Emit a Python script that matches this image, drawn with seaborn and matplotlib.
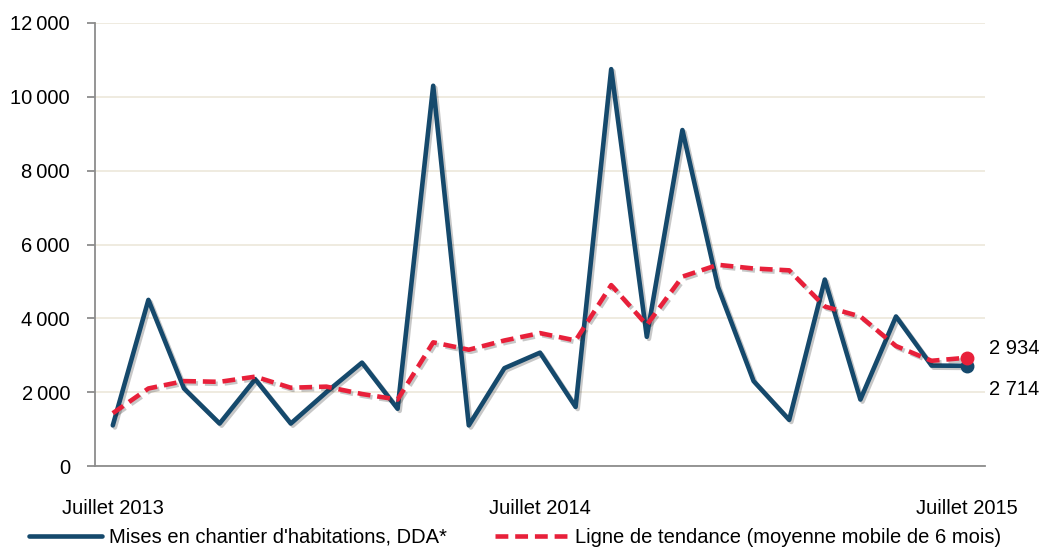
import numpy as np
import pandas as pd
import seaborn as sns
import matplotlib.pyplot as plt
import matplotlib.patheffects as pe

# Données mensuelles, juillet 2013 -> juillet 2015
mois = list(range(25))
mises_en_chantier = [1100, 4500, 2100, 1150, 2350, 1150, 2000, 2800, 1550, 10300,
                     1100, 2650, 3070, 1600, 10750, 3500, 9100, 4850, 2300, 1250,
                     5050, 1800, 4050, 2720, 2714]
tendance = [1430, 2100, 2300, 2280, 2420, 2120, 2150, 1950, 1800, 3350,
            3150, 3400, 3600, 3400, 4900, 3820, 5130, 5450, 5350, 5300,
            4320, 4050, 3250, 2850, 2934]
ticks_x = [0, 12, 24]
labels_x = ['Juillet 2013', 'Juillet 2014', 'Juillet 2015']
ticks_y = [0, 2000, 4000, 6000, 8000, 10000, 12000]

df = pd.DataFrame({'mois': mois, 'dda': mises_en_chantier, 'tendance': tendance})

sns.set_style('white')
plt.rcParams['font.family'] = ['Liberation Sans', 'DejaVu Sans']
plt.rcParams['text.color'] = 'black'
plt.rcParams['xtick.labelcolor'] = 'black'
plt.rcParams['ytick.labelcolor'] = 'black'

bleu = '#15496C'
rouge = '#E8203A'
ombre = [pe.SimpleLineShadow(offset=(1.5, -1.5), alpha=0.25, shadow_color='#222222'), pe.Normal()]

fig = plt.figure(figsize=(10.47, 5.52), dpi=100)
ax = fig.add_axes([95 / 1047, 1 - 466 / 552, 890 / 1047, 443 / 552])

sns.lineplot(data=df, x='mois', y='dda', ax=ax, color=bleu, linewidth=3.3,
             label="Mises en chantier d'habitations, DDA*", path_effects=ombre)
sns.lineplot(data=df, x='mois', y='tendance', ax=ax, color=rouge, linewidth=3.3,
             label='Ligne de tendance (moyenne mobile de 6 mois)',
             path_effects=ombre)
ax.lines[1].set_dashes([2.8, 1.5])

# points finaux
ax.plot(df['mois'].iloc[-1], df['dda'].iloc[-1], 'o', color=bleu, ms=9)
ax.plot(df['mois'].iloc[-1], df['tendance'].iloc[-1], 'o', color=rouge, ms=9)

ax.text(1.005, 3170, '2 934', transform=ax.get_yaxis_transform(), fontsize=14.5,
        va='center', ha='left')
ax.text(1.005, 2060, '2 714', transform=ax.get_yaxis_transform(), fontsize=14.5,
        va='center', ha='left')

ax.set_xlim(-0.5, 24.5)
ax.set_ylim(0, 12000)
ax.set_xticks(ticks_x)
ax.set_xticklabels(labels_x)
ax.set_yticks(ticks_y)
ax.set_yticklabels(['{:,}'.format(v).replace(',', '\u2009') if v else '0' for v in ticks_y])
ax.yaxis.grid(True, color='#EEE9DD', linewidth=1.3)
ax.set_axisbelow(True)
ax.set_xlabel('')
ax.set_ylabel('')

for s in ['top', 'right']:
    ax.spines[s].set_visible(False)
for s in ['left', 'bottom']:
    ax.spines[s].set_color('#8C8C8C')
    ax.spines[s].set_linewidth(1.3)

ax.tick_params(axis='y', left=True, length=6, width=1.3, color='#8C8C8C',
               labelsize=14.5, pad=12, labelcolor='black')
ax.tick_params(axis='x', bottom=False, labelsize=14.5, pad=20, labelcolor='black')

ax.get_legend().remove()
handles, labels = ax.get_legend_handles_labels()
leg = fig.legend(handles, labels, loc='center', bbox_to_anchor=(0.492, 0.027), ncol=2,
                 frameon=False, fontsize=14.5, handlelength=3.6, handletextpad=0.35,
                 columnspacing=2.4, borderaxespad=0)
for h in leg.get_lines():
    h.set_path_effects([])
    h.set_linewidth(3.3)
for t in leg.get_texts():
    t.set_color('black')

fig.savefig('out.png', dpi=100)
